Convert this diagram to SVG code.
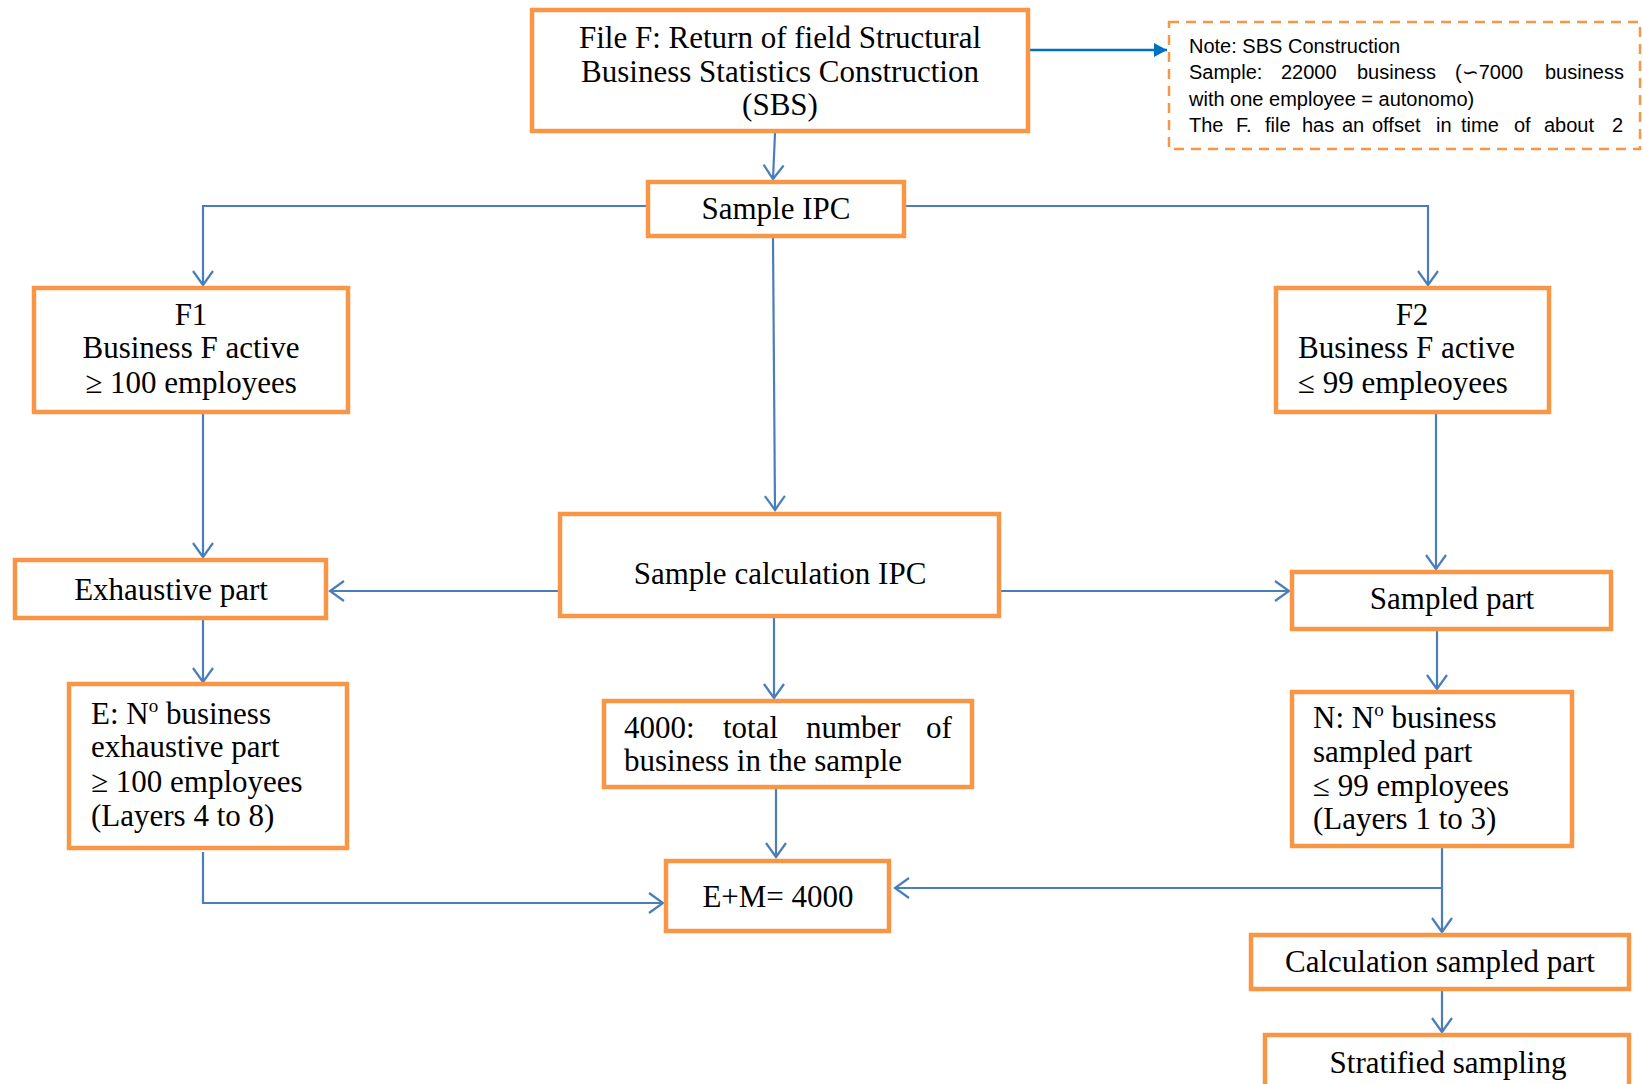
<svg xmlns="http://www.w3.org/2000/svg" width="1643" height="1084" viewBox="0 0 1643 1084">
<style>
.box{fill:#fff;stroke:#F79646;stroke-width:4.5}
.note{fill:#fff;stroke:#F79646;stroke-width:2.5;stroke-dasharray:10 7}
.t{font-family:"Liberation Serif","Times New Roman",serif;font-size:31px;fill:#000}
.c{text-anchor:middle}
.n{font-family:"Liberation Sans",Arial,sans-serif;font-size:20px;fill:#000}
.con{fill:none;stroke:#4A7EBB;stroke-width:2.2}
.sup{font-size:19px}
</style>
<defs>
<marker id="open" markerUnits="userSpaceOnUse" viewBox="-16 -12 18 24" refX="0" refY="0" markerWidth="18" markerHeight="24" orient="auto">
<path d="M-14,-10 L0,0 L-14,10" fill="none" stroke="#4A7EBB" stroke-width="2.2"/>
</marker>
<marker id="fill" markerUnits="userSpaceOnUse" viewBox="-14 -8 15 16" refX="0" refY="0" markerWidth="15" markerHeight="16" orient="auto">
<path d="M-13,-7 L0,0 L-13,7 Z" fill="#0070C0"/>
</marker>
</defs>
<g id="connectors">
<path class="con" d="M775,133 L773,179" marker-end="url(#open)"/>
<path d="M1030,50 L1167,50" fill="none" stroke="#0070C0" stroke-width="2.4" marker-end="url(#fill)"/>
<path class="con" d="M646,206 H203 V285" marker-end="url(#open)"/>
<path class="con" d="M906,206 H1428 V285" marker-end="url(#open)"/>
<path class="con" d="M773,238 L775,510" marker-end="url(#open)"/>
<path class="con" d="M203,414 V557" marker-end="url(#open)"/>
<path class="con" d="M1436,414 V569" marker-end="url(#open)"/>
<path class="con" d="M558,591 H330" marker-end="url(#open)"/>
<path class="con" d="M1001,591 H1289" marker-end="url(#open)"/>
<path class="con" d="M203,620 V682" marker-end="url(#open)"/>
<path class="con" d="M1437,631 V689" marker-end="url(#open)"/>
<path class="con" d="M774,618 V698" marker-end="url(#open)"/>
<path class="con" d="M776,789 V857" marker-end="url(#open)"/>
<path class="con" d="M203,852 V903 H663" marker-end="url(#open)"/>
<path class="con" d="M1442,848 V932" marker-end="url(#open)"/>
<path class="con" d="M1442,888 H895" marker-end="url(#open)"/>
<path class="con" d="M1442,991 V1032" marker-end="url(#open)"/>
</g>
<g id="fileF">
<rect class="box" x="532" y="10" width="496" height="121"/>
<text class="t c" x="780" y="48">File F: Return of field Structural</text>
<text class="t c" x="780" y="82">Business Statistics Construction</text>
<text class="t c" x="780" y="115">(SBS)</text>
</g>
<g id="note">
<rect class="note" x="1169" y="22" width="471" height="127"/>
<text class="n" x="1189" y="53">Note: SBS Construction</text>
<text class="n" y="79"><tspan x="1189">Sample:</tspan><tspan x="1281">22000</tspan><tspan x="1357">business</tspan><tspan x="1455">(∽7000</tspan><tspan x="1545">business</tspan></text>
<text class="n" x="1189" y="106">with one employee = autonomo)</text>
<text class="n" y="132"><tspan x="1189">The</tspan><tspan x="1236">F.</tspan><tspan x="1265">file</tspan><tspan x="1302">has</tspan><tspan x="1342">an</tspan><tspan x="1372">offset</tspan><tspan x="1436">in</tspan><tspan x="1461">time</tspan><tspan x="1514">of</tspan><tspan x="1544">about</tspan><tspan x="1612">2</tspan></text>
</g>
<g id="sampleIPC">
<rect class="box" x="648" y="182" width="256" height="54"/>
<text class="t c" x="776" y="219">Sample IPC</text>
</g>
<g id="F1">
<rect class="box" x="34" y="288" width="314" height="124"/>
<text class="t c" x="191" y="325">F1</text>
<text class="t c" x="191" y="358">Business F active</text>
<text class="t c" x="191" y="393">≥ 100 employees</text>
</g>
<g id="F2">
<rect class="box" x="1276" y="288" width="273" height="124"/>
<text class="t c" x="1412" y="325">F2</text>
<text class="t" x="1298" y="358">Business F active</text>
<text class="t" x="1298" y="393">≤ 99 empleoyees</text>
</g>
<g id="sampleCalc">
<rect class="box" x="560" y="514" width="439" height="102"/>
<text class="t c" x="780" y="584">Sample calculation IPC</text>
</g>
<g id="exhaustive">
<rect class="box" x="15" y="560" width="311" height="58"/>
<text class="t c" x="171" y="600">Exhaustive part</text>
</g>
<g id="sampled">
<rect class="box" x="1292" y="572" width="319" height="57"/>
<text class="t c" x="1452" y="609">Sampled part</text>
</g>
<g id="E">
<rect class="box" x="69" y="684" width="278" height="164"/>
<text class="t" x="91" y="724">E: N<tspan class="sup" dy="-12">o</tspan><tspan dy="12"> business</tspan></text>
<text class="t" x="91" y="757">exhaustive part</text>
<text class="t" x="91" y="792">≥ 100 employees</text>
<text class="t" x="91" y="826">(Layers 4 to 8)</text>
</g>
<g id="total4000">
<rect class="box" x="604" y="701" width="368" height="86"/>
<text class="t" y="738"><tspan x="624">4000:</tspan><tspan x="723">total</tspan><tspan x="806">number</tspan><tspan x="926">of</tspan></text>
<text class="t" x="624" y="771">business in the sample</text>
</g>
<g id="N">
<rect class="box" x="1292" y="692" width="280" height="154"/>
<text class="t" x="1313" y="728">N: N<tspan class="sup" dy="-12">o</tspan><tspan dy="12"> business</tspan></text>
<text class="t" x="1313" y="762">sampled part</text>
<text class="t" x="1313" y="796">≤ 99 employees</text>
<text class="t" x="1313" y="829">(Layers 1 to 3)</text>
</g>
<g id="EM">
<rect class="box" x="666" y="861" width="223" height="70"/>
<text class="t c" x="778" y="907">E+M= 4000</text>
</g>
<g id="calcSampled">
<rect class="box" x="1251" y="935" width="378" height="54"/>
<text class="t c" x="1440" y="972">Calculation sampled part</text>
</g>
<g id="stratified">
<rect class="box" x="1265" y="1035" width="364" height="70"/>
<text class="t c" x="1448" y="1073">Stratified sampling</text>
</g>
</svg>
